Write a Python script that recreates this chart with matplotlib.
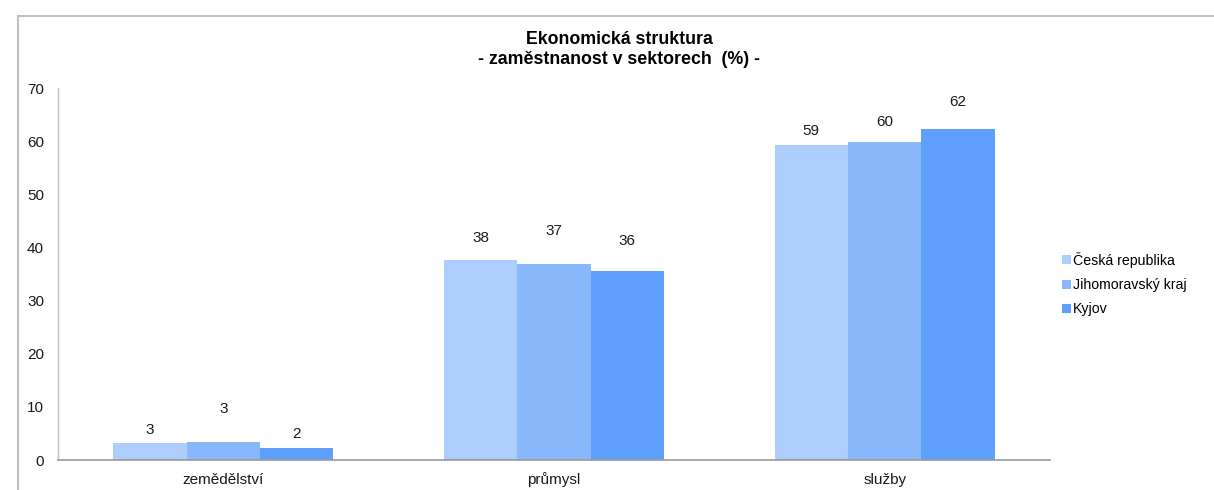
import matplotlib
matplotlib.use("Agg")
import matplotlib.pyplot as plt
import numpy as np
from matplotlib.patches import Rectangle

plt.rcParams['font.family'] = ['Liberation Sans', 'DejaVu Sans']

categories = ["zemědělství", "průmysl", "služby"]
series_names = ["Česká republika", "Jihomoravský kraj", "Kyjov"]
ceska = [3.26, 37.6, 59.2]
jihomoravsky = [3.3, 36.9, 59.9]
kyjov = [2.2, 35.6, 62.2]
label_texts = [["3", "38", "59"], ["3", "37", "60"], ["2", "36", "62"]]
yticks = [0, 10, 20, 30, 40, 50, 60, 70]

# style: label offsets above bar tops (pixels) per series/category
label_offsets_px = [[12.7, 21.7, 14.3], [33.3, 32.7, 19.7], [14.3, 30.0, 27.0]]
colors = ["#ADCEFC", "#88B7FC", "#5E9FFE"]

W, H = 1214, 490
fig = plt.figure(figsize=(W / 100, H / 100), dpi=100)

# outer chart frame
fig.patches.append(Rectangle((18 / W, -0.1), 1.2, (490 - 16) / H + 0.1,
                             transform=fig.transFigure, fill=False,
                             edgecolor="#BFBFBF", linewidth=1.5))

ax = fig.add_axes([58 / W, (H - 460) / H, (1050 - 58) / W, (460 - 88) / H])
x = np.arange(len(categories))
bw = 0.222
data = [ceska, jihomoravsky, kyjov]
for i, (vals, name, col) in enumerate(zip(data, series_names, colors)):
    pos = x + (i - 1) * bw
    ax.bar(pos, vals, width=bw, color=col, label=name, edgecolor="none")
    for j, v in enumerate(vals):
        ax.annotate(label_texts[i][j], (pos[j], v),
                    xytext=(0, label_offsets_px[i][j] * 0.72),
                    textcoords="offset points", ha="center", va="center",
                    fontsize=11, color="#1a1a1a")

ax.set_xlim(-0.5, 2.5)
ax.set_ylim(0, 70)
ax.set_yticks(yticks)
ax.set_xticks(x)
ax.set_xticklabels(categories)
ax.tick_params(axis="both", length=0, labelsize=11, colors="#1a1a1a")
ax.tick_params(axis="y", pad=10)
ax.tick_params(axis="x", pad=9)
for s in ["top", "right"]:
    ax.spines[s].set_visible(False)
ax.spines["left"].set_color("#BFBFBF")
ax.spines["bottom"].set_color("#9A9A9A")
ax.spines["left"].set_linewidth(1.0)
ax.spines["bottom"].set_linewidth(1.2)

fig.text(619 / W, 1 - 39 / H, "Ekonomická struktura", ha="center", va="center",
         fontsize=12.8, fontweight="bold")
fig.text(619 / W, 1 - 60 / H, "- zaměstnanost v sektorech  (%) -", ha="center",
         va="center", fontsize=12.8, fontweight="bold")

fig.legend(loc="center left", bbox_to_anchor=(1062 / W, 1 - 284 / H),
           frameon=False, fontsize=10.2, handlelength=0.6, handleheight=0.6,
           handletextpad=0.15, labelspacing=0.72, borderaxespad=0, borderpad=0)

fig.savefig("out.png", dpi=100)
